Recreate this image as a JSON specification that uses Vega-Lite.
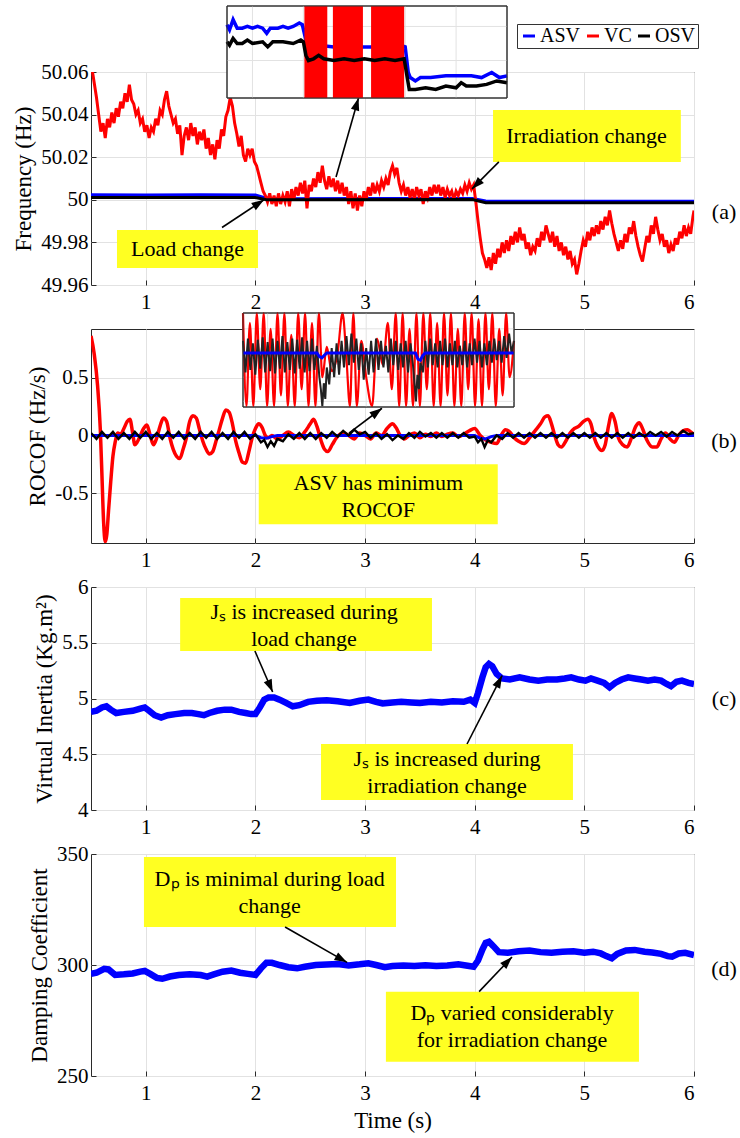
{
"$schema":"https://vega.github.io/schema/vega-lite/v6.json",
"padding":{"left":12,"top":5,"right":2,"bottom":2},
"config":{
 "font":"Liberation Serif",
 "view":{"stroke":"#2a2a2a","strokeWidth":1},
 "axis":{"labelFont":"Liberation Serif","labelFontSize":21,"labelColor":"#000","titleFont":"Liberation Serif","titleFontSize":23,"titleFontWeight":"normal","titleColor":"#000","gridColor":"#e2e2e2","ticks":true,"tickSize":-5,"tickColor":"#2a2a2a","domain":false,"labelPadding":8},
 "axisX":{"labelPadding":11},
 "text":{"font":"Liberation Serif"}
},
"datasets":{
 "fa_asv":[{"s":"ASV","t":0.5,"v":50.0024},{"s":"ASV","t":1.0,"v":50.0023},{"s":"ASV","t":1.5,"v":50.0024},{"s":"ASV","t":2.0,"v":50.0023},{"s":"ASV","t":2.1,"v":50.0008},{"s":"ASV","t":2.2,"v":50.0005},{"s":"ASV","t":3.0,"v":50.0006},{"s":"ASV","t":3.98,"v":50.0006},{"s":"ASV","t":4.1,"v":49.9994},{"s":"ASV","t":4.3,"v":49.9993},{"s":"ASV","t":6.0,"v":49.9993}],
 "fa_osv":[{"s":"OSV","t":0.5,"v":50.0011},{"s":"OSV","t":2.0,"v":50.0011},{"s":"OSV","t":2.1,"v":50.0},{"s":"OSV","t":3.98,"v":50.0001},{"s":"OSV","t":4.1,"v":49.9986},{"s":"OSV","t":6.0,"v":49.9986}],
 "fa_vc":[
{"s":"VC","t":0.5,"v":50.064},{"s":"VC","t":0.52,"v":50.058},{"s":"VC","t":0.55,"v":50.048},{"s":"VC","t":0.57,"v":50.04},{"s":"VC","t":0.59,"v":50.032},{"s":"VC","t":0.61,"v":50.036},{"s":"VC","t":0.63,"v":50.029},{"s":"VC","t":0.65,"v":50.038},{"s":"VC","t":0.67,"v":50.034},{"s":"VC","t":0.69,"v":50.041},{"s":"VC","t":0.71,"v":50.036},{"s":"VC","t":0.73,"v":50.043},{"s":"VC","t":0.75,"v":50.039},{"s":"VC","t":0.77,"v":50.046},{"s":"VC","t":0.79,"v":50.043},{"s":"VC","t":0.81,"v":50.05},{"s":"VC","t":0.83,"v":50.046},{"s":"VC","t":0.85,"v":50.054},{"s":"VC","t":0.87,"v":50.047},{"s":"VC","t":0.89,"v":50.045},{"s":"VC","t":0.91,"v":50.04},{"s":"VC","t":0.93,"v":50.042},{"s":"VC","t":0.95,"v":50.036},{"s":"VC","t":0.97,"v":50.038},{"s":"VC","t":0.99,"v":50.032},{"s":"VC","t":1.01,"v":50.035},{"s":"VC","t":1.03,"v":50.029},{"s":"VC","t":1.05,"v":50.034},{"s":"VC","t":1.07,"v":50.032},{"s":"VC","t":1.09,"v":50.038},{"s":"VC","t":1.11,"v":50.035},{"s":"VC","t":1.13,"v":50.042},{"s":"VC","t":1.15,"v":50.04},{"s":"VC","t":1.17,"v":50.047},{"s":"VC","t":1.19,"v":50.051},{"s":"VC","t":1.21,"v":50.044},{"s":"VC","t":1.23,"v":50.04},{"s":"VC","t":1.25,"v":50.036},{"s":"VC","t":1.27,"v":50.038},{"s":"VC","t":1.29,"v":50.031},{"s":"VC","t":1.31,"v":50.035},{"s":"VC","t":1.33,"v":50.021},{"s":"VC","t":1.35,"v":50.03},{"s":"VC","t":1.37,"v":50.034},{"s":"VC","t":1.39,"v":50.028},{"s":"VC","t":1.41,"v":50.036},{"s":"VC","t":1.43,"v":50.03},{"s":"VC","t":1.45,"v":50.034},{"s":"VC","t":1.47,"v":50.026},{"s":"VC","t":1.49,"v":50.032},{"s":"VC","t":1.51,"v":50.028},{"s":"VC","t":1.53,"v":50.033},{"s":"VC","t":1.55,"v":50.024},{"s":"VC","t":1.57,"v":50.029},{"s":"VC","t":1.59,"v":50.021},{"s":"VC","t":1.61,"v":50.026},{"s":"VC","t":1.63,"v":50.019},{"s":"VC","t":1.65,"v":50.028},{"s":"VC","t":1.67,"v":50.024},{"s":"VC","t":1.69,"v":50.033},{"s":"VC","t":1.71,"v":50.03},{"s":"VC","t":1.73,"v":50.039},{"s":"VC","t":1.75,"v":50.042},{"s":"VC","t":1.77,"v":50.048},{"s":"VC","t":1.79,"v":50.044},{"s":"VC","t":1.81,"v":50.036},{"s":"VC","t":1.83,"v":50.031},{"s":"VC","t":1.85,"v":50.025},{"s":"VC","t":1.87,"v":50.03},{"s":"VC","t":1.89,"v":50.021},{"s":"VC","t":1.91,"v":50.018},{"s":"VC","t":1.93,"v":50.024},{"s":"VC","t":1.95,"v":50.021},{"s":"VC","t":1.97,"v":50.024},{"s":"VC","t":1.99,"v":50.018},{"s":"VC","t":2.01,"v":50.016},{"s":"VC","t":2.03,"v":50.012},{"s":"VC","t":2.05,"v":50.008},{"s":"VC","t":2.07,"v":50.004},{"s":"VC","t":2.09,"v":50.002},{"s":"VC","t":2.11,"v":49.999},{"s":"VC","t":2.13,"v":50.003},{"s":"VC","t":2.15,"v":49.998},{"s":"VC","t":2.17,"v":50.002},{"s":"VC","t":2.19,"v":49.997},{"s":"VC","t":2.21,"v":50.003},{"s":"VC","t":2.23,"v":49.998},{"s":"VC","t":2.25,"v":50.002},{"s":"VC","t":2.27,"v":49.999},{"s":"VC","t":2.29,"v":50.004},{"s":"VC","t":2.31,"v":49.997},{"s":"VC","t":2.33,"v":50.005},{"s":"VC","t":2.35,"v":50.0},{"s":"VC","t":2.37,"v":50.006},{"s":"VC","t":2.39,"v":50.002},{"s":"VC","t":2.41,"v":50.008},{"s":"VC","t":2.43,"v":50.003},{"s":"VC","t":2.45,"v":50.009},{"s":"VC","t":2.47,"v":49.996},{"s":"VC","t":2.49,"v":50.007},{"s":"VC","t":2.51,"v":50.004},{"s":"VC","t":2.53,"v":50.01},{"s":"VC","t":2.55,"v":50.006},{"s":"VC","t":2.57,"v":50.013},{"s":"VC","t":2.59,"v":50.008},{"s":"VC","t":2.61,"v":50.016},{"s":"VC","t":2.63,"v":50.009},{"s":"VC","t":2.65,"v":50.005},{"s":"VC","t":2.67,"v":50.011},{"s":"VC","t":2.69,"v":50.006},{"s":"VC","t":2.71,"v":50.01},{"s":"VC","t":2.73,"v":50.004},{"s":"VC","t":2.75,"v":50.009},{"s":"VC","t":2.77,"v":50.003},{"s":"VC","t":2.79,"v":50.008},{"s":"VC","t":2.81,"v":50.002},{"s":"VC","t":2.83,"v":50.006},{"s":"VC","t":2.85,"v":49.998},{"s":"VC","t":2.87,"v":50.004},{"s":"VC","t":2.89,"v":49.996},{"s":"VC","t":2.91,"v":50.003},{"s":"VC","t":2.93,"v":49.995},{"s":"VC","t":2.95,"v":50.002},{"s":"VC","t":2.97,"v":49.997},{"s":"VC","t":2.99,"v":50.004},{"s":"VC","t":3.01,"v":50.0},{"s":"VC","t":3.03,"v":50.006},{"s":"VC","t":3.05,"v":50.002},{"s":"VC","t":3.07,"v":50.008},{"s":"VC","t":3.09,"v":50.003},{"s":"VC","t":3.11,"v":50.007},{"s":"VC","t":3.13,"v":50.004},{"s":"VC","t":3.15,"v":50.009},{"s":"VC","t":3.17,"v":50.006},{"s":"VC","t":3.19,"v":50.01},{"s":"VC","t":3.21,"v":50.007},{"s":"VC","t":3.23,"v":50.013},{"s":"VC","t":3.25,"v":50.016},{"s":"VC","t":3.27,"v":50.012},{"s":"VC","t":3.29,"v":50.015},{"s":"VC","t":3.31,"v":50.008},{"s":"VC","t":3.33,"v":50.004},{"s":"VC","t":3.35,"v":50.007},{"s":"VC","t":3.37,"v":50.002},{"s":"VC","t":3.39,"v":50.006},{"s":"VC","t":3.41,"v":50.001},{"s":"VC","t":3.43,"v":50.005},{"s":"VC","t":3.45,"v":50.0},{"s":"VC","t":3.47,"v":50.006},{"s":"VC","t":3.49,"v":50.002},{"s":"VC","t":3.51,"v":50.005},{"s":"VC","t":3.53,"v":49.998},{"s":"VC","t":3.55,"v":50.004},{"s":"VC","t":3.57,"v":50.001},{"s":"VC","t":3.59,"v":50.006},{"s":"VC","t":3.61,"v":50.002},{"s":"VC","t":3.63,"v":50.007},{"s":"VC","t":3.65,"v":50.003},{"s":"VC","t":3.67,"v":50.007},{"s":"VC","t":3.69,"v":50.002},{"s":"VC","t":3.71,"v":50.006},{"s":"VC","t":3.73,"v":50.001},{"s":"VC","t":3.75,"v":50.005},{"s":"VC","t":3.77,"v":50.002},{"s":"VC","t":3.79,"v":50.004},{"s":"VC","t":3.81,"v":50.0},{"s":"VC","t":3.83,"v":50.004},{"s":"VC","t":3.85,"v":50.002},{"s":"VC","t":3.87,"v":50.005},{"s":"VC","t":3.89,"v":50.003},{"s":"VC","t":3.91,"v":50.007},{"s":"VC","t":3.93,"v":50.004},{"s":"VC","t":3.95,"v":50.008},{"s":"VC","t":3.97,"v":50.005},{"s":"VC","t":3.99,"v":50.007},{"s":"VC","t":4.01,"v":49.999},{"s":"VC","t":4.03,"v":49.99},{"s":"VC","t":4.05,"v":49.982},{"s":"VC","t":4.07,"v":49.975},{"s":"VC","t":4.09,"v":49.972},{"s":"VC","t":4.11,"v":49.968},{"s":"VC","t":4.13,"v":49.973},{"s":"VC","t":4.15,"v":49.967},{"s":"VC","t":4.17,"v":49.975},{"s":"VC","t":4.19,"v":49.97},{"s":"VC","t":4.21,"v":49.977},{"s":"VC","t":4.23,"v":49.973},{"s":"VC","t":4.25,"v":49.98},{"s":"VC","t":4.27,"v":49.975},{"s":"VC","t":4.29,"v":49.981},{"s":"VC","t":4.31,"v":49.976},{"s":"VC","t":4.33,"v":49.983},{"s":"VC","t":4.35,"v":49.979},{"s":"VC","t":4.37,"v":49.985},{"s":"VC","t":4.39,"v":49.98},{"s":"VC","t":4.41,"v":49.987},{"s":"VC","t":4.43,"v":49.981},{"s":"VC","t":4.45,"v":49.984},{"s":"VC","t":4.47,"v":49.977},{"s":"VC","t":4.49,"v":49.98},{"s":"VC","t":4.51,"v":49.974},{"s":"VC","t":4.53,"v":49.978},{"s":"VC","t":4.55,"v":49.976},{"s":"VC","t":4.57,"v":49.982},{"s":"VC","t":4.59,"v":49.978},{"s":"VC","t":4.61,"v":49.985},{"s":"VC","t":4.63,"v":49.981},{"s":"VC","t":4.65,"v":49.988},{"s":"VC","t":4.67,"v":49.984},{"s":"VC","t":4.69,"v":49.98},{"s":"VC","t":4.71,"v":49.985},{"s":"VC","t":4.73,"v":49.978},{"s":"VC","t":4.75,"v":49.983},{"s":"VC","t":4.77,"v":49.976},{"s":"VC","t":4.79,"v":49.98},{"s":"VC","t":4.81,"v":49.974},{"s":"VC","t":4.83,"v":49.978},{"s":"VC","t":4.85,"v":49.972},{"s":"VC","t":4.87,"v":49.976},{"s":"VC","t":4.89,"v":49.97},{"s":"VC","t":4.91,"v":49.972},{"s":"VC","t":4.93,"v":49.965},{"s":"VC","t":4.95,"v":49.97},{"s":"VC","t":4.97,"v":49.976},{"s":"VC","t":4.99,"v":49.981},{"s":"VC","t":5.01,"v":49.978},{"s":"VC","t":5.03,"v":49.985},{"s":"VC","t":5.05,"v":49.981},{"s":"VC","t":5.07,"v":49.987},{"s":"VC","t":5.09,"v":49.983},{"s":"VC","t":5.11,"v":49.988},{"s":"VC","t":5.13,"v":49.984},{"s":"VC","t":5.15,"v":49.99},{"s":"VC","t":5.17,"v":49.986},{"s":"VC","t":5.19,"v":49.992},{"s":"VC","t":5.21,"v":49.988},{"s":"VC","t":5.23,"v":49.995},{"s":"VC","t":5.25,"v":49.989},{"s":"VC","t":5.27,"v":49.984},{"s":"VC","t":5.29,"v":49.98},{"s":"VC","t":5.31,"v":49.976},{"s":"VC","t":5.33,"v":49.981},{"s":"VC","t":5.35,"v":49.977},{"s":"VC","t":5.37,"v":49.984},{"s":"VC","t":5.39,"v":49.98},{"s":"VC","t":5.41,"v":49.987},{"s":"VC","t":5.43,"v":49.984},{"s":"VC","t":5.45,"v":49.99},{"s":"VC","t":5.47,"v":49.983},{"s":"VC","t":5.49,"v":49.978},{"s":"VC","t":5.51,"v":49.974},{"s":"VC","t":5.53,"v":49.971},{"s":"VC","t":5.55,"v":49.977},{"s":"VC","t":5.57,"v":49.983},{"s":"VC","t":5.59,"v":49.98},{"s":"VC","t":5.61,"v":49.988},{"s":"VC","t":5.63,"v":49.984},{"s":"VC","t":5.65,"v":49.992},{"s":"VC","t":5.67,"v":49.986},{"s":"VC","t":5.69,"v":49.981},{"s":"VC","t":5.71,"v":49.984},{"s":"VC","t":5.73,"v":49.978},{"s":"VC","t":5.75,"v":49.981},{"s":"VC","t":5.77,"v":49.975},{"s":"VC","t":5.79,"v":49.979},{"s":"VC","t":5.81,"v":49.976},{"s":"VC","t":5.83,"v":49.982},{"s":"VC","t":5.85,"v":49.979},{"s":"VC","t":5.87,"v":49.985},{"s":"VC","t":5.89,"v":49.982},{"s":"VC","t":5.91,"v":49.988},{"s":"VC","t":5.93,"v":49.983},{"s":"VC","t":5.95,"v":49.987},{"s":"VC","t":5.97,"v":49.984},{"s":"VC","t":5.99,"v":49.992},{"s":"VC","t":6.0,"v":49.995}],
 "ia_asv":[{"t":0.5,"v":50.0021},{"t":0.55,"v":50.0018},{"t":0.62,"v":50.0024},{"t":0.7,"v":50.0019},{"t":0.8,"v":50.0019},{"t":0.9,"v":50.002},{"t":1.0,"v":50.0019},{"t":1.1,"v":50.002},{"t":1.2,"v":50.0019},{"t":1.28,"v":50.0016},{"t":1.35,"v":50.0019},{"t":1.5,"v":50.0019},{"t":1.6,"v":50.002},{"t":1.7,"v":50.0019},{"t":1.8,"v":50.002},{"t":1.92,"v":50.0022},{"t":1.98,"v":50.0021},{"t":2.05,"v":50.0012},{"t":2.1,"v":50.0009},{"t":2.3,"v":50.0009},{"t":2.6,"v":50.0008},{"t":3.0,"v":50.0008},{"t":3.4,"v":50.0008},{"t":3.6,"v":50.0009},{"t":3.9,"v":50.0009},{"t":4.0,"v":50.0008},{"t":4.06,"v":49.9993},{"t":4.1,"v":49.999},{"t":4.2,"v":49.9988},{"t":4.3,"v":49.999},{"t":4.5,"v":49.999},{"t":4.8,"v":49.9991},{"t":5.0,"v":49.9991},{"t":5.3,"v":49.9991},{"t":5.5,"v":49.999},{"t":5.7,"v":49.9993},{"t":5.85,"v":49.999},{"t":6.0,"v":49.9991}],
 "ia_osv":[{"t":0.5,"v":50.0011},{"t":0.55,"v":50.0009},{"t":0.62,"v":50.0013},{"t":0.7,"v":50.001},{"t":0.8,"v":50.001},{"t":0.9,"v":50.0012},{"t":1.0,"v":50.001},{"t":1.2,"v":50.0011},{"t":1.3,"v":50.0008},{"t":1.4,"v":50.0011},{"t":1.6,"v":50.0011},{"t":1.8,"v":50.001},{"t":1.95,"v":50.0012},{"t":2.0,"v":50.0011},{"t":2.05,"v":50.0003},{"t":2.1,"v":50.0},{"t":2.2,"v":50.0001},{"t":2.3,"v":50.0003},{"t":2.4,"v":50.0001},{"t":2.6,"v":50.0},{"t":2.8,"v":50.0001},{"t":3.0,"v":50.0},{"t":3.2,"v":50.0001},{"t":3.4,"v":50.0},{"t":3.6,"v":50.0001},{"t":3.8,"v":50.0},{"t":3.98,"v":50.0001},{"t":4.04,"v":49.999},{"t":4.08,"v":49.9983},{"t":4.2,"v":49.9983},{"t":4.4,"v":49.9984},{"t":4.6,"v":49.9983},{"t":4.8,"v":49.9985},{"t":5.0,"v":49.9984},{"t":5.1,"v":49.9987},{"t":5.2,"v":49.9985},{"t":5.4,"v":49.9985},{"t":5.6,"v":49.9986},{"t":5.8,"v":49.9988},{"t":6.0,"v":49.9987}],
 "ia_vc":[{"t":2.02,"t2":2.47,"v":49.9978,"v2":50.0032},{"t":2.58,"t2":3.17,"v":49.9978,"v2":50.0032},{"t":3.33,"t2":3.98,"v":49.9978,"v2":50.0032}],
 "fb_vc":[{"t":0.5,"v":0.86},{"t":0.53,"v":0.7},{"t":0.56,"v":0.43},{"t":0.585,"v":0.05},{"t":0.6,"v":-0.35},{"t":0.615,"v":-0.75},{"t":0.63,"v":-0.92},{"t":0.645,"v":-0.85},{"t":0.66,"v":-0.65},{"t":0.68,"v":-0.4},{"t":0.7,"v":-0.18},{"t":0.72,"v":-0.06},{"t":0.745,"v":0.02},{"t":0.77,"v":0.01},{"t":0.8,"v":0.06},{"t":0.83,"v":0.12},{"t":0.855,"v":0.14},{"t":0.88,"v":0.02},{"t":0.9,"v":-0.08},{"t":0.92,"v":-0.06},{"t":0.95,"v":0.0},{"t":0.98,"v":0.06},{"t":1.01,"v":0.09},{"t":1.04,"v":0.0},{"t":1.07,"v":-0.08},{"t":1.1,"v":-0.02},{"t":1.13,"v":0.08},{"t":1.16,"v":0.15},{"t":1.19,"v":0.12},{"t":1.22,"v":-0.02},{"t":1.25,"v":-0.12},{"t":1.28,"v":-0.18},{"t":1.31,"v":-0.2},{"t":1.34,"v":-0.12},{"t":1.37,"v":-0.02},{"t":1.4,"v":0.12},{"t":1.43,"v":0.17},{"t":1.46,"v":0.15},{"t":1.49,"v":0.05},{"t":1.52,"v":-0.05},{"t":1.55,"v":-0.12},{"t":1.58,"v":-0.16},{"t":1.61,"v":-0.14},{"t":1.64,"v":-0.05},{"t":1.67,"v":0.05},{"t":1.7,"v":0.15},{"t":1.73,"v":0.22},{"t":1.76,"v":0.2},{"t":1.79,"v":0.1},{"t":1.82,"v":-0.05},{"t":1.85,"v":-0.15},{"t":1.88,"v":-0.23},{"t":1.91,"v":-0.24},{"t":1.94,"v":-0.14},{"t":1.97,"v":-0.02},{"t":2.0,"v":0.06},{"t":2.03,"v":0.1},{"t":2.06,"v":0.07},{"t":2.09,"v":0.0},{"t":2.12,"v":-0.02},{"t":2.15,"v":0.0},{"t":2.2,"v":-0.03},{"t":2.25,"v":0.0},{"t":2.3,"v":0.03},{"t":2.35,"v":0.0},{"t":2.4,"v":-0.02},{"t":2.45,"v":0.03},{"t":2.5,"v":0.1},{"t":2.53,"v":0.14},{"t":2.56,"v":0.08},{"t":2.6,"v":-0.05},{"t":2.63,"v":-0.12},{"t":2.66,"v":-0.14},{"t":2.7,"v":-0.08},{"t":2.74,"v":-0.02},{"t":2.8,"v":0.02},{"t":2.85,"v":0.0},{"t":2.9,"v":-0.03},{"t":2.95,"v":0.02},{"t":3.0,"v":0.0},{"t":3.05,"v":-0.03},{"t":3.1,"v":0.02},{"t":3.15,"v":0.0},{"t":3.2,"v":0.06},{"t":3.25,"v":0.1},{"t":3.28,"v":0.07},{"t":3.32,"v":0.0},{"t":3.36,"v":-0.03},{"t":3.4,"v":0.0},{"t":3.45,"v":0.02},{"t":3.5,"v":-0.02},{"t":3.55,"v":0.01},{"t":3.6,"v":-0.01},{"t":3.65,"v":0.02},{"t":3.7,"v":-0.01},{"t":3.75,"v":0.01},{"t":3.8,"v":0.02},{"t":3.85,"v":-0.01},{"t":3.9,"v":0.01},{"t":3.95,"v":0.04},{"t":4.0,"v":0.06},{"t":4.05,"v":0.0},{"t":4.1,"v":-0.04},{"t":4.15,"v":-0.06},{"t":4.2,"v":-0.07},{"t":4.24,"v":0.0},{"t":4.28,"v":0.05},{"t":4.32,"v":0.03},{"t":4.36,"v":-0.02},{"t":4.4,"v":-0.05},{"t":4.45,"v":-0.07},{"t":4.5,"v":-0.02},{"t":4.55,"v":0.04},{"t":4.6,"v":0.1},{"t":4.64,"v":0.16},{"t":4.67,"v":0.17},{"t":4.7,"v":0.1},{"t":4.73,"v":0.0},{"t":4.76,"v":-0.08},{"t":4.79,"v":-0.1},{"t":4.83,"v":-0.05},{"t":4.87,"v":0.02},{"t":4.91,"v":0.06},{"t":4.95,"v":0.08},{"t":4.99,"v":0.12},{"t":5.03,"v":0.14},{"t":5.06,"v":0.1},{"t":5.09,"v":-0.02},{"t":5.12,"v":-0.09},{"t":5.16,"v":-0.13},{"t":5.19,"v":-0.08},{"t":5.22,"v":0.08},{"t":5.25,"v":0.19},{"t":5.28,"v":0.12},{"t":5.31,"v":-0.02},{"t":5.35,"v":-0.08},{"t":5.39,"v":-0.1},{"t":5.43,"v":-0.02},{"t":5.47,"v":0.08},{"t":5.5,"v":0.11},{"t":5.53,"v":0.06},{"t":5.57,"v":-0.04},{"t":5.62,"v":-0.1},{"t":5.66,"v":-0.1},{"t":5.7,"v":-0.03},{"t":5.74,"v":0.02},{"t":5.78,"v":-0.03},{"t":5.82,"v":-0.06},{"t":5.86,"v":0.0},{"t":5.9,"v":0.04},{"t":5.94,"v":0.05},{"t":5.97,"v":0.03},{"t":6.0,"v":0.01}],
 "fb_asv":[{"t":0.5,"v":0.0},{"t":2.0,"v":0.0},{"t":2.05,"v":-0.02},{"t":2.1,"v":-0.025},{"t":2.15,"v":-0.01},{"t":2.2,"v":0.0},{"t":4.0,"v":0.0},{"t":4.05,"v":-0.025},{"t":4.1,"v":-0.03},{"t":4.15,"v":-0.01},{"t":4.2,"v":0.0},{"t":6.0,"v":0.0}],
 "fb_osv":[{"t":0.5,"v":0.02},{"t":0.55,"v":-0.03},{"t":0.6,"v":0.03},{"t":0.65,"v":-0.02},{"t":0.7,"v":0.03},{"t":0.75,"v":-0.03},{"t":0.8,"v":0.02},{"t":0.85,"v":-0.03},{"t":0.9,"v":0.03},{"t":0.95,"v":-0.02},{"t":1.0,"v":0.03},{"t":1.05,"v":-0.03},{"t":1.1,"v":0.02},{"t":1.15,"v":-0.03},{"t":1.2,"v":0.03},{"t":1.25,"v":-0.02},{"t":1.3,"v":0.03},{"t":1.35,"v":-0.03},{"t":1.4,"v":0.02},{"t":1.45,"v":-0.03},{"t":1.5,"v":0.03},{"t":1.55,"v":-0.02},{"t":1.6,"v":0.03},{"t":1.65,"v":-0.03},{"t":1.7,"v":0.02},{"t":1.75,"v":-0.03},{"t":1.8,"v":0.03},{"t":1.85,"v":-0.02},{"t":1.9,"v":0.03},{"t":1.95,"v":-0.03},{"t":2.0,"v":0.01},{"t":2.05,"v":-0.06},{"t":2.08,"v":-0.04},{"t":2.11,"v":-0.1},{"t":2.14,"v":-0.05},{"t":2.17,"v":-0.09},{"t":2.2,"v":-0.03},{"t":2.25,"v":-0.05},{"t":2.3,"v":0.01},{"t":2.35,"v":-0.03},{"t":2.4,"v":0.02},{"t":2.45,"v":-0.03},{"t":2.5,"v":0.02},{"t":2.55,"v":-0.03},{"t":2.6,"v":0.02},{"t":2.65,"v":-0.02},{"t":2.7,"v":0.03},{"t":2.75,"v":-0.01},{"t":2.8,"v":0.04},{"t":2.85,"v":0.0},{"t":2.9,"v":0.05},{"t":2.95,"v":0.01},{"t":3.0,"v":0.03},{"t":3.05,"v":-0.02},{"t":3.1,"v":0.02},{"t":3.15,"v":-0.03},{"t":3.2,"v":0.01},{"t":3.25,"v":-0.04},{"t":3.3,"v":0.0},{"t":3.35,"v":-0.03},{"t":3.4,"v":0.02},{"t":3.45,"v":-0.02},{"t":3.5,"v":0.03},{"t":3.55,"v":-0.01},{"t":3.6,"v":0.02},{"t":3.65,"v":-0.02},{"t":3.7,"v":0.02},{"t":3.75,"v":-0.02},{"t":3.8,"v":0.02},{"t":3.85,"v":-0.02},{"t":3.9,"v":0.02},{"t":3.95,"v":-0.02},{"t":4.0,"v":-0.01},{"t":4.03,"v":-0.06},{"t":4.06,"v":-0.03},{"t":4.09,"v":-0.1},{"t":4.12,"v":-0.04},{"t":4.15,"v":-0.06},{"t":4.2,"v":0.0},{"t":4.25,"v":-0.03},{"t":4.3,"v":0.02},{"t":4.35,"v":-0.02},{"t":4.4,"v":0.02},{"t":4.45,"v":-0.02},{"t":4.5,"v":0.02},{"t":4.55,"v":-0.02},{"t":4.6,"v":0.02},{"t":4.65,"v":-0.02},{"t":4.7,"v":0.02},{"t":4.75,"v":-0.02},{"t":4.8,"v":0.02},{"t":4.85,"v":-0.02},{"t":4.9,"v":0.02},{"t":4.95,"v":-0.02},{"t":5.0,"v":0.02},{"t":5.05,"v":-0.02},{"t":5.1,"v":0.02},{"t":5.15,"v":-0.02},{"t":5.2,"v":0.02},{"t":5.25,"v":-0.02},{"t":5.3,"v":0.02},{"t":5.35,"v":-0.02},{"t":5.4,"v":0.02},{"t":5.45,"v":-0.02},{"t":5.5,"v":0.02},{"t":5.55,"v":-0.01},{"t":5.6,"v":0.03},{"t":5.65,"v":0.0},{"t":5.7,"v":0.03},{"t":5.75,"v":-0.01},{"t":5.8,"v":0.03},{"t":5.85,"v":0.0},{"t":5.9,"v":0.04},{"t":5.95,"v":0.01},{"t":6.0,"v":0.02}],
 "ib_asv":[{"t":0.5,"v":0.0},{"t":2.0,"v":0.0},{"t":2.05,"v":-0.003},{"t":2.1,"v":-0.004},{"t":2.15,"v":-0.002},{"t":2.2,"v":0.0},{"t":4.0,"v":0.0},{"t":4.05,"v":-0.005},{"t":4.1,"v":-0.006},{"t":4.15,"v":-0.002},{"t":4.2,"v":0.0},{"t":6.0,"v":0.0}],
 "ib_osv":[{"t":0.5,"v":0.01},{"t":0.55,"v":-0.016},{"t":0.6,"v":0.012},{"t":0.65,"v":-0.014},{"t":0.7,"v":0.008},{"t":0.75,"v":-0.018},{"t":0.8,"v":0.011},{"t":0.85,"v":-0.013},{"t":0.9,"v":0.013},{"t":0.95,"v":-0.016},{"t":1.0,"v":0.009},{"t":1.05,"v":-0.015},{"t":1.1,"v":0.012},{"t":1.15,"v":-0.017},{"t":1.2,"v":0.01},{"t":1.25,"v":-0.013},{"t":1.3,"v":0.014},{"t":1.35,"v":-0.016},{"t":1.4,"v":0.009},{"t":1.45,"v":-0.014},{"t":1.5,"v":0.012},{"t":1.55,"v":-0.017},{"t":1.6,"v":0.011},{"t":1.65,"v":-0.013},{"t":1.7,"v":0.013},{"t":1.75,"v":-0.016},{"t":1.8,"v":0.01},{"t":1.85,"v":-0.015},{"t":1.9,"v":0.012},{"t":1.95,"v":-0.014},{"t":2.0,"v":0.006},{"t":2.05,"v":-0.02},{"t":2.08,"v":-0.03},{"t":2.11,"v":-0.044},{"t":2.14,"v":-0.025},{"t":2.17,"v":-0.038},{"t":2.2,"v":-0.012},{"t":2.25,"v":-0.026},{"t":2.3,"v":0.004},{"t":2.35,"v":-0.02},{"t":2.4,"v":0.008},{"t":2.45,"v":-0.018},{"t":2.5,"v":0.01},{"t":2.55,"v":-0.012},{"t":2.6,"v":0.014},{"t":2.65,"v":-0.01},{"t":2.7,"v":0.016},{"t":2.75,"v":-0.008},{"t":2.8,"v":0.012},{"t":2.85,"v":-0.014},{"t":2.9,"v":0.008},{"t":2.95,"v":-0.022},{"t":3.0,"v":0.004},{"t":3.05,"v":-0.018},{"t":3.1,"v":0.01},{"t":3.15,"v":-0.016},{"t":3.2,"v":0.012},{"t":3.25,"v":-0.014},{"t":3.3,"v":0.01},{"t":3.35,"v":-0.012},{"t":3.4,"v":0.006},{"t":3.45,"v":-0.016},{"t":3.5,"v":0.012},{"t":3.55,"v":-0.01},{"t":3.6,"v":0.01},{"t":3.65,"v":-0.014},{"t":3.7,"v":0.008},{"t":3.75,"v":-0.012},{"t":3.8,"v":0.01},{"t":3.85,"v":-0.016},{"t":3.9,"v":0.008},{"t":3.95,"v":-0.01},{"t":3.98,"v":-0.025},{"t":4.01,"v":-0.04},{"t":4.04,"v":-0.018},{"t":4.07,"v":-0.03},{"t":4.1,"v":-0.008},{"t":4.15,"v":-0.016},{"t":4.2,"v":0.01},{"t":4.25,"v":-0.012},{"t":4.3,"v":0.012},{"t":4.35,"v":-0.01},{"t":4.4,"v":0.008},{"t":4.45,"v":-0.012},{"t":4.5,"v":0.01},{"t":4.55,"v":-0.01},{"t":4.6,"v":0.012},{"t":4.65,"v":-0.012},{"t":4.7,"v":0.008},{"t":4.75,"v":-0.01},{"t":4.8,"v":0.01},{"t":4.85,"v":-0.012},{"t":4.9,"v":0.006},{"t":4.95,"v":-0.01},{"t":5.0,"v":0.01},{"t":5.05,"v":-0.012},{"t":5.1,"v":0.008},{"t":5.15,"v":-0.01},{"t":5.2,"v":0.012},{"t":5.25,"v":-0.008},{"t":5.3,"v":0.01},{"t":5.35,"v":-0.012},{"t":5.4,"v":0.008},{"t":5.45,"v":-0.01},{"t":5.5,"v":0.01},{"t":5.55,"v":-0.008},{"t":5.6,"v":0.012},{"t":5.65,"v":-0.006},{"t":5.7,"v":0.01},{"t":5.75,"v":-0.008},{"t":5.8,"v":0.014},{"t":5.85,"v":-0.004},{"t":5.9,"v":0.016},{"t":5.95,"v":0.0},{"t":6.0,"v":0.01}],
 "ib_vc":[{"t":0.5,"v":0.033},{"t":0.57,"v":-0.044},{"t":0.64,"v":0.025},{"t":0.71,"v":-0.044},{"t":0.78,"v":0.033},{"t":0.85,"v":-0.03},{"t":0.92,"v":0.033},{"t":0.99,"v":-0.044},{"t":1.06,"v":0.02},{"t":1.13,"v":-0.044},{"t":1.2,"v":0.033},{"t":1.27,"v":-0.035},{"t":1.34,"v":0.033},{"t":1.41,"v":-0.044},{"t":1.48,"v":0.015},{"t":1.55,"v":-0.044},{"t":1.62,"v":0.033},{"t":1.69,"v":-0.03},{"t":1.76,"v":0.033},{"t":1.83,"v":-0.044},{"t":1.9,"v":0.025},{"t":1.97,"v":-0.044},{"t":2.04,"v":0.033},{"t":2.11,"v":-0.02},{"t":2.2,"v":0.005},{"t":2.3,"v":-0.015},{"t":2.42,"v":0.0},{"t":2.52,"v":0.033},{"t":2.6,"v":-0.005},{"t":2.67,"v":-0.044},{"t":2.74,"v":0.033},{"t":2.81,"v":-0.044},{"t":2.9,"v":0.01},{"t":3.0,"v":-0.02},{"t":3.12,"v":-0.044},{"t":3.22,"v":0.012},{"t":3.34,"v":-0.01},{"t":3.44,"v":0.025},{"t":3.52,"v":-0.03},{"t":3.6,"v":0.033},{"t":3.67,"v":-0.044},{"t":3.74,"v":0.033},{"t":3.81,"v":-0.044},{"t":3.88,"v":0.02},{"t":3.95,"v":-0.044},{"t":4.02,"v":0.033},{"t":4.09,"v":-0.044},{"t":4.16,"v":0.033},{"t":4.23,"v":-0.03},{"t":4.3,"v":0.033},{"t":4.37,"v":-0.044},{"t":4.44,"v":0.025},{"t":4.51,"v":-0.044},{"t":4.58,"v":0.033},{"t":4.65,"v":-0.035},{"t":4.72,"v":0.033},{"t":4.79,"v":-0.044},{"t":4.86,"v":0.02},{"t":4.93,"v":-0.044},{"t":5.0,"v":0.033},{"t":5.07,"v":-0.03},{"t":5.14,"v":0.033},{"t":5.21,"v":-0.044},{"t":5.28,"v":0.028},{"t":5.35,"v":-0.044},{"t":5.42,"v":0.033},{"t":5.49,"v":-0.03},{"t":5.56,"v":0.033},{"t":5.63,"v":-0.044},{"t":5.7,"v":0.02},{"t":5.77,"v":-0.035},{"t":5.84,"v":0.033},{"t":5.91,"v":-0.02},{"t":6.0,"v":0.01}],
 "fc":[{"t":0.5,"v":4.88},{"t":0.55,"v":4.89},{"t":0.6,"v":4.92},{"t":0.64,"v":4.93},{"t":0.68,"v":4.9},{"t":0.73,"v":4.87},{"t":0.8,"v":4.88},{"t":0.88,"v":4.89},{"t":0.95,"v":4.91},{"t":0.99,"v":4.92},{"t":1.03,"v":4.89},{"t":1.08,"v":4.85},{"t":1.14,"v":4.83},{"t":1.2,"v":4.85},{"t":1.27,"v":4.86},{"t":1.35,"v":4.87},{"t":1.42,"v":4.87},{"t":1.48,"v":4.86},{"t":1.53,"v":4.85},{"t":1.58,"v":4.87},{"t":1.65,"v":4.89},{"t":1.72,"v":4.9},{"t":1.78,"v":4.9},{"t":1.85,"v":4.88},{"t":1.91,"v":4.87},{"t":1.96,"v":4.86},{"t":2.0,"v":4.86},{"t":2.04,"v":4.92},{"t":2.08,"v":4.99},{"t":2.12,"v":5.01},{"t":2.17,"v":5.01},{"t":2.22,"v":4.99},{"t":2.28,"v":4.96},{"t":2.34,"v":4.93},{"t":2.4,"v":4.94},{"t":2.48,"v":4.97},{"t":2.56,"v":4.98},{"t":2.65,"v":4.985},{"t":2.75,"v":4.975},{"t":2.86,"v":4.96},{"t":2.95,"v":4.98},{"t":3.03,"v":4.99},{"t":3.1,"v":4.97},{"t":3.16,"v":4.955},{"t":3.25,"v":4.965},{"t":3.33,"v":4.97},{"t":3.42,"v":4.965},{"t":3.5,"v":4.96},{"t":3.6,"v":4.97},{"t":3.7,"v":4.965},{"t":3.8,"v":4.975},{"t":3.9,"v":4.97},{"t":3.96,"v":4.99},{"t":4.0,"v":4.96},{"t":4.03,"v":5.05},{"t":4.07,"v":5.19},{"t":4.1,"v":5.28},{"t":4.13,"v":5.31},{"t":4.16,"v":5.29},{"t":4.2,"v":5.22},{"t":4.25,"v":5.18},{"t":4.32,"v":5.17},{"t":4.41,"v":5.19},{"t":4.5,"v":5.17},{"t":4.58,"v":5.16},{"t":4.66,"v":5.17},{"t":4.75,"v":5.17},{"t":4.82,"v":5.18},{"t":4.88,"v":5.19},{"t":4.95,"v":5.17},{"t":5.01,"v":5.16},{"t":5.06,"v":5.18},{"t":5.12,"v":5.16},{"t":5.18,"v":5.14},{"t":5.23,"v":5.1},{"t":5.28,"v":5.14},{"t":5.34,"v":5.17},{"t":5.4,"v":5.19},{"t":5.46,"v":5.18},{"t":5.52,"v":5.17},{"t":5.58,"v":5.16},{"t":5.64,"v":5.17},{"t":5.7,"v":5.16},{"t":5.75,"v":5.13},{"t":5.79,"v":5.11},{"t":5.84,"v":5.15},{"t":5.89,"v":5.16},{"t":5.95,"v":5.14},{"t":6.0,"v":5.13}],
 "fd":[{"t":0.5,"v":296.0},{"t":0.55,"v":296.5},{"t":0.62,"v":298.3},{"t":0.66,"v":298.0},{"t":0.72,"v":295.5},{"t":0.8,"v":295.8},{"t":0.88,"v":296.2},{"t":0.95,"v":297.0},{"t":0.99,"v":297.3},{"t":1.04,"v":296.0},{"t":1.1,"v":294.2},{"t":1.15,"v":293.8},{"t":1.22,"v":294.8},{"t":1.3,"v":295.5},{"t":1.4,"v":295.8},{"t":1.5,"v":295.5},{"t":1.56,"v":294.8},{"t":1.62,"v":295.8},{"t":1.7,"v":297.0},{"t":1.78,"v":297.5},{"t":1.86,"v":296.5},{"t":1.93,"v":296.0},{"t":2.0,"v":295.5},{"t":2.05,"v":298.5},{"t":2.1,"v":301.0},{"t":2.15,"v":301.0},{"t":2.22,"v":300.0},{"t":2.3,"v":299.0},{"t":2.38,"v":298.5},{"t":2.45,"v":299.2},{"t":2.55,"v":300.0},{"t":2.65,"v":300.2},{"t":2.75,"v":300.4},{"t":2.85,"v":299.8},{"t":2.95,"v":300.3},{"t":3.03,"v":300.8},{"t":3.1,"v":300.0},{"t":3.18,"v":299.0},{"t":3.25,"v":299.5},{"t":3.35,"v":299.8},{"t":3.45,"v":299.6},{"t":3.55,"v":299.9},{"t":3.65,"v":299.5},{"t":3.75,"v":299.8},{"t":3.85,"v":300.3},{"t":3.92,"v":299.8},{"t":3.99,"v":299.2},{"t":4.03,"v":302.0},{"t":4.07,"v":307.0},{"t":4.1,"v":310.0},{"t":4.13,"v":310.5},{"t":4.17,"v":308.5},{"t":4.22,"v":305.8},{"t":4.3,"v":305.5},{"t":4.4,"v":306.2},{"t":4.5,"v":306.5},{"t":4.6,"v":305.8},{"t":4.7,"v":305.5},{"t":4.8,"v":306.0},{"t":4.9,"v":306.2},{"t":5.0,"v":305.5},{"t":5.08,"v":306.0},{"t":5.15,"v":305.2},{"t":5.2,"v":304.0},{"t":5.25,"v":303.0},{"t":5.3,"v":305.0},{"t":5.38,"v":306.5},{"t":5.46,"v":306.8},{"t":5.55,"v":306.0},{"t":5.62,"v":305.6},{"t":5.7,"v":305.0},{"t":5.76,"v":304.0},{"t":5.8,"v":303.8},{"t":5.86,"v":305.2},{"t":5.92,"v":305.5},{"t":6.0,"v":304.5}],
 "aa_box":[{"t":0.737,"t2":2.023,"v":49.9858,"v2":49.968},{"t":4.167,"t2":5.88,"v":50.0422,"v2":50.0177}],
 "aa_txt":[{"t":1.38,"v":49.977,"label":"Load change"},{"t":5.02,"v":50.0298,"label":"Irradiation change"},{"t":6.274,"v":49.9943,"label":"(a)"}],
 "aa_arr":[{"id":"a1","t":2.078,"v":50.0,"t2":1.695,"v2":49.987},{"id":"a2","t":2.94,"v":50.0478,"t2":2.735,"v2":50.0107},{"id":"a3","t":3.975,"v":50.0051,"t2":4.22,"v2":50.0178}],
 "ab_box":[{"t":2.03,"t2":4.21,"v":-0.25,"v2":-0.767}],
 "ab_txt":[{"t":3.12,"v":-0.411,"label":"ASV has minimum\nROCOF"},{"t":6.274,"v":-0.05,"label":"(b)"}],
 "ab_arr":[{"id":"b1","t":3.154,"v":0.235,"t2":2.853,"v2":0.02}],
 "ac_box":[{"t":1.313,"t2":3.61,"v":5.901,"v2":5.426},{"t":2.598,"t2":4.896,"v":4.592,"v2":4.09}],
 "ac_txt":[{"t":2.443,"v":5.776,"label":"Jₛ is increased during\nload change"},{"t":3.747,"v":4.457,"label":"Jₛ is increased during\nirradiation change"},{"t":6.274,"v":4.995,"label":"(c)"}],
 "ac_arr":[{"id":"c1","t":2.157,"v":5.058,"t2":1.995,"v2":5.426},{"id":"c2","t":4.249,"v":5.2045,"t2":3.93,"v2":4.592}],
 "ad_box":[{"t":0.983,"t2":3.282,"v":348.6,"v2":317.1},{"t":3.19,"t2":5.498,"v":288.0,"v2":256.4}],
 "ad_txt":[{"t":2.13,"v":338.7,"label":"Dₚ is minimal during load\nchange"},{"t":4.34,"v":278.4,"label":"Dₚ varied considerably\nfor irradiation change"},{"t":6.274,"v":298.2,"label":"(d)"}],
 "ad_arr":[{"id":"d1","t":2.835,"v":301.2,"t2":2.27,"v2":317.1},{"id":"d2","t":4.34,"v":303.6,"t2":4.04,"v2":288.0}]
},
"spacing":44,
"bounds":"flush",
"vconcat":[
 {"width":603,"height":213,
  "resolve":{"scale":{"x":"independent","y":"independent"}},
  "layer":[
   {"encoding":{"x":{"field":"t","type":"quantitative","scale":{"domain":[0.5,6],"nice":false,"zero":false},"axis":{"values":[1,2,3,4,5,6],"title":null}},
      "y":{"field":"v","type":"quantitative","scale":{"domain":[49.96,50.06],"nice":false,"zero":false},"axis":{"values":[49.96,49.98,50,50.02,50.04,50.06],"labelExpr":"toString(datum.value)","title":"Frequency (Hz)","titlePadding":5}}},
    "layer":[
    {"data":{"name":"fa_asv"},"mark":{"type":"line","strokeWidth":3,"clip":true},
     "encoding":{"color":{"field":"s","type":"nominal","scale":{"domain":["ASV","VC","OSV"],"range":["#0000ff","#ff0000","#000000"]},
       "legend":{"orient":"none","legendX":426,"legendY":-48,"direction":"horizontal","title":null,"symbolType":"stroke","symbolSize":144,"symbolStrokeWidth":3,"labelFont":"Liberation Serif","labelFontSize":20,"labelColor":"#000","strokeColor":"#333","fillColor":"#fff","padding":2,"columnPadding":0,"labelOffset":1}}}},
    {"data":{"name":"fa_vc"},"mark":{"type":"line","strokeWidth":3,"clip":true},
     "encoding":{"color":{"field":"s","type":"nominal","scale":{"domain":["ASV","VC","OSV"],"range":["#0000ff","#ff0000","#000000"]},
       "legend":{"orient":"none","legendX":426,"legendY":-48,"direction":"horizontal","title":null,"symbolType":"stroke","symbolSize":144,"symbolStrokeWidth":3,"labelFont":"Liberation Serif","labelFontSize":20,"labelColor":"#000","strokeColor":"#333","fillColor":"#fff","padding":2,"columnPadding":0,"labelOffset":1}}}},
    {"data":{"name":"fa_osv"},"mark":{"type":"line","strokeWidth":3,"clip":true},
     "encoding":{"color":{"field":"s","type":"nominal","scale":{"domain":["ASV","VC","OSV"],"range":["#0000ff","#ff0000","#000000"]},
       "legend":{"orient":"none","legendX":426,"legendY":-48,"direction":"horizontal","title":null,"symbolType":"stroke","symbolSize":144,"symbolStrokeWidth":3,"labelFont":"Liberation Serif","labelFontSize":20,"labelColor":"#000","strokeColor":"#333","fillColor":"#fff","padding":2,"columnPadding":0,"labelOffset":1}}}},
    {"data":{"name":"aa_box"},"mark":{"type":"rect","fill":"#ffff22"},"encoding":{"x2":{"field":"t2"},"y2":{"field":"v2"}}},
    {"data":{"name":"aa_txt"},"mark":{"type":"text","fontSize":22,"font":"Liberation Serif","color":"#000","align":"center","baseline":"middle","lineBreak":"\n","lineHeight":27},"encoding":{"text":{"field":"label"}}},
    {"data":{"name":"aa_arr"},"mark":{"type":"rule","strokeWidth":1.6,"color":"#000"},"encoding":{"x2":{"field":"t2"},"y2":{"field":"v2"}}},
    {"data":{"name":"aa_arr"},"transform":[{"filter":"datum.id=='a1'"}],"mark":{"type":"point","shape":"M0,0L-0.75,2.2L0.75,2.2Z","size":130,"filled":true,"color":"#000","opacity":1,"angle":57}},
    {"data":{"name":"aa_arr"},"transform":[{"filter":"datum.id=='a2'"}],"mark":{"type":"point","shape":"M0,0L-0.75,2.2L0.75,2.2Z","size":130,"filled":true,"color":"#000","opacity":1,"angle":16}},
    {"data":{"name":"aa_arr"},"transform":[{"filter":"datum.id=='a3'"}],"mark":{"type":"point","shape":"M0,0L-0.75,2.2L0.75,2.2Z","size":130,"filled":true,"color":"#000","opacity":1,"angle":225}}
   ]},
   {"encoding":{"x":{"field":"t","type":"quantitative","scale":{"domain":[0.5,6],"range":[136,416],"nice":false,"zero":false},"axis":null},
      "y":{"field":"v","type":"quantitative","scale":{"domain":[49.9978,50.0032],"range":[26,-66],"nice":false,"zero":false},"axis":null}},
    "layer":[
    {"data":{"values":[{"t":0.5,"t2":6,"v":49.9978,"v2":50.0032}]},"mark":{"type":"rect","fill":"#ffffff","stroke":"#333","strokeWidth":1},"encoding":{"x2":{"field":"t2"},"y2":{"field":"v2"}}},
    {"data":{"values":[{"t":1,"v":49.9978,"v2":50.0032},{"t":2,"v":49.9978,"v2":50.0032},{"t":3,"v":49.9978,"v2":50.0032},{"t":4,"v":49.9978,"v2":50.0032},{"t":5,"v":49.9978,"v2":50.0032}]},"mark":{"type":"rule","color":"#e2e2e2","strokeWidth":1},"encoding":{"y2":{"field":"v2"}}},
    {"data":{"values":[{"t":0.5,"t2":6,"v":50.0},{"t":0.5,"t2":6,"v":50.002}]},"mark":{"type":"rule","color":"#e2e2e2","strokeWidth":1},"encoding":{"x2":{"field":"t2"}}},
    {"data":{"name":"ia_asv"},"mark":{"type":"line","strokeWidth":3.5,"color":"#0000ff"}},
    {"data":{"name":"ia_vc"},"mark":{"type":"rect","fill":"#ff0000"},"encoding":{"x2":{"field":"t2"},"y2":{"field":"v2"}}},
    {"data":{"name":"ia_osv"},"mark":{"type":"line","strokeWidth":3.5,"color":"#000000"}},
    {"data":{"values":[{"t":0.5,"t2":6,"v":49.9978,"v2":50.0032}]},"mark":{"type":"rect","fillOpacity":0,"stroke":"#333","strokeWidth":1},"encoding":{"x2":{"field":"t2"},"y2":{"field":"v2"}}}
   ]}
  ]},
 {"width":603,"height":214,
  "resolve":{"scale":{"x":"independent","y":"independent"}},
  "layer":[
   {"encoding":{"x":{"field":"t","type":"quantitative","scale":{"domain":[0.5,6],"nice":false,"zero":false},"axis":{"values":[1,2,3,4,5,6],"title":null}},
      "y":{"field":"v","type":"quantitative","scale":{"domain":[-0.93,0.92],"nice":false,"zero":false},"axis":{"values":[-0.5,0,0.5],"labelExpr":"toString(datum.value)","title":"ROCOF (Hz/s)","titlePadding":5}}},
    "layer":[
    {"data":{"name":"fb_vc"},"mark":{"type":"line","strokeWidth":3.5,"color":"#ff0000","clip":true,"interpolate":"monotone"}},
    {"data":{"name":"fb_asv"},"mark":{"type":"line","strokeWidth":3,"color":"#0000ff","clip":true}},
    {"data":{"name":"fb_osv"},"mark":{"type":"line","strokeWidth":2.4,"color":"#000000","clip":true}},
    {"data":{"name":"ab_box"},"mark":{"type":"rect","fill":"#ffff22"},"encoding":{"x2":{"field":"t2"},"y2":{"field":"v2"}}},
    {"data":{"name":"ab_txt"},"mark":{"type":"text","fontSize":22,"font":"Liberation Serif","color":"#000","align":"center","baseline":"middle","lineBreak":"\n","lineHeight":27},"encoding":{"text":{"field":"label"}}},
    {"data":{"name":"ab_arr"},"mark":{"type":"rule","strokeWidth":1.6,"color":"#000"},"encoding":{"x2":{"field":"t2"},"y2":{"field":"v2"}}},
    {"data":{"name":"ab_arr"},"mark":{"type":"point","shape":"M0,0L-0.75,2.2L0.75,2.2Z","size":130,"filled":true,"color":"#000","opacity":1,"angle":53}}
   ]},
   {"encoding":{"x":{"field":"t","type":"quantitative","scale":{"domain":[0.5,6],"range":[152,423],"nice":false,"zero":false},"axis":null},
      "y":{"field":"v","type":"quantitative","scale":{"domain":[-0.0447,0.0331],"range":[78,-16],"nice":false,"zero":false},"axis":null}},
    "layer":[
    {"data":{"values":[{"t":0.5,"t2":6,"v":-0.0447,"v2":0.0331}]},"mark":{"type":"rect","fill":"#ffffff","stroke":"#333","strokeWidth":1},"encoding":{"x2":{"field":"t2"},"y2":{"field":"v2"}}},
    {"data":{"values":[{"t":1,"v":-0.0447,"v2":0.0331},{"t":2,"v":-0.0447,"v2":0.0331},{"t":3,"v":-0.0447,"v2":0.0331},{"t":4,"v":-0.0447,"v2":0.0331},{"t":5,"v":-0.0447,"v2":0.0331}]},"mark":{"type":"rule","color":"#e2e2e2","strokeWidth":1},"encoding":{"y2":{"field":"v2"}}},
    {"data":{"values":[{"t":0.5,"t2":6,"v":0.02},{"t":0.5,"t2":6,"v":0.0},{"t":0.5,"t2":6,"v":-0.02},{"t":0.5,"t2":6,"v":-0.04}]},"mark":{"type":"rule","color":"#e2e2e2","strokeWidth":1},"encoding":{"x2":{"field":"t2"}}},
    {"data":{"name":"ib_vc"},"mark":{"type":"line","strokeWidth":2.2,"color":"#ff0000","interpolate":"monotone"}},
    {"data":{"name":"ib_osv"},"mark":{"type":"line","strokeWidth":2,"color":"#222222"}},
    {"data":{"name":"ib_asv"},"mark":{"type":"line","strokeWidth":3,"color":"#0000ff"}},
    {"data":{"values":[{"t":0.5,"t2":6,"v":-0.0447,"v2":0.0331}]},"mark":{"type":"rect","fillOpacity":0,"stroke":"#333","strokeWidth":1},"encoding":{"x2":{"field":"t2"},"y2":{"field":"v2"}}}
   ]}
  ]},
 {"width":603,"height":223,
  "encoding":{"x":{"field":"t","type":"quantitative","scale":{"domain":[0.5,6],"nice":false,"zero":false},"axis":{"values":[1,2,3,4,5,6],"title":null}},
      "y":{"field":"v","type":"quantitative","scale":{"domain":[4,6],"nice":false,"zero":false},"axis":{"values":[4,4.5,5,5.5,6],"labelExpr":"toString(datum.value)","title":"Virtual Inertia (Kg.m²)","titlePadding":5}}},
  "layer":[
    {"data":{"name":"fc"},"mark":{"type":"line","strokeWidth":6.5,"color":"#0000ff","clip":true}},
    {"data":{"name":"ac_box"},"mark":{"type":"rect","fill":"#ffff22"},"encoding":{"x2":{"field":"t2"},"y2":{"field":"v2"}}},
    {"data":{"name":"ac_txt"},"mark":{"type":"text","fontSize":22,"font":"Liberation Serif","color":"#000","align":"center","baseline":"middle","lineBreak":"\n","lineHeight":27},"encoding":{"text":{"field":"label"}}},
    {"data":{"name":"ac_arr"},"mark":{"type":"rule","strokeWidth":1.6,"color":"#000"},"encoding":{"x2":{"field":"t2"},"y2":{"field":"v2"}}},
    {"data":{"name":"ac_arr"},"transform":[{"filter":"datum.id=='c1'"}],"mark":{"type":"point","shape":"M0,0L-0.75,2.2L0.75,2.2Z","size":130,"filled":true,"color":"#000","opacity":1,"angle":157}},
    {"data":{"name":"ac_arr"},"transform":[{"filter":"datum.id=='c2'"}],"mark":{"type":"point","shape":"M0,0L-0.75,2.2L0.75,2.2Z","size":130,"filled":true,"color":"#000","opacity":1,"angle":27}}
  ]},
 {"width":603,"height":222,
  "encoding":{"x":{"field":"t","type":"quantitative","scale":{"domain":[0.5,6],"nice":false,"zero":false},"axis":{"values":[1,2,3,4,5,6],"title":"Time (s)","titlePadding":6}},
      "y":{"field":"v","type":"quantitative","scale":{"domain":[250,350],"nice":false,"zero":false},"axis":{"values":[250,300,350],"labelExpr":"toString(datum.value)","title":"Damping Coefficient","titlePadding":5}}},
  "layer":[
    {"data":{"name":"fd"},"mark":{"type":"line","strokeWidth":6.5,"color":"#0000ff","clip":true}},
    {"data":{"name":"ad_box"},"mark":{"type":"rect","fill":"#ffff22"},"encoding":{"x2":{"field":"t2"},"y2":{"field":"v2"}}},
    {"data":{"name":"ad_txt"},"mark":{"type":"text","fontSize":22,"font":"Liberation Serif","color":"#000","align":"center","baseline":"middle","lineBreak":"\n","lineHeight":27},"encoding":{"text":{"field":"label"}}},
    {"data":{"name":"ad_arr"},"mark":{"type":"rule","strokeWidth":1.6,"color":"#000"},"encoding":{"x2":{"field":"t2"},"y2":{"field":"v2"}}},
    {"data":{"name":"ad_arr"},"transform":[{"filter":"datum.id=='d1'"}],"mark":{"type":"point","shape":"M0,0L-0.75,2.2L0.75,2.2Z","size":130,"filled":true,"color":"#000","opacity":1,"angle":119}},
    {"data":{"name":"ad_arr"},"transform":[{"filter":"datum.id=='d2'"}],"mark":{"type":"point","shape":"M0,0L-0.75,2.2L0.75,2.2Z","size":130,"filled":true,"color":"#000","opacity":1,"angle":44}}
  ]}
]
}
